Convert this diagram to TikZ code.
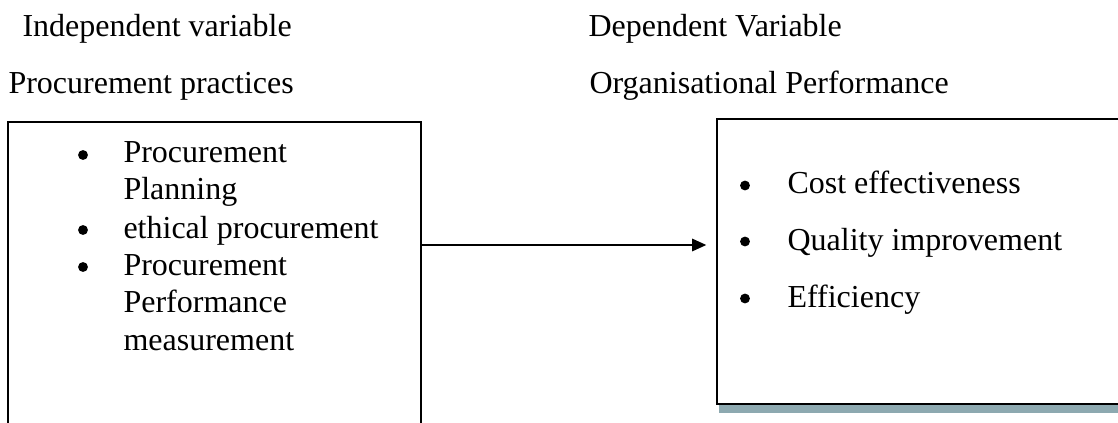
\documentclass[tikz,border=0pt]{standalone}
\usepackage{fontspec}
\setmainfont{Liberation Serif}
\usepackage{xcolor}
\usetikzlibrary{arrows.meta, positioning, calc, shadows}
\definecolor{ShadowSlate}{HTML}{8DA9B0}
\newcommand{\bodyfont}{\fontsize{12}{14}\selectfont}

\begin{document}
\begin{tikzpicture}[x=0.375pt, y=-0.375pt,
    heading/.style={anchor=base west, inner sep=0pt, font=\bodyfont},
    dot/.style={circle, fill=black, inner sep=0pt, minimum size=3.7pt},
    entry/.style={anchor=base west, inner sep=0pt, align=left, font=\bodyfont}]
    \useasboundingbox (0,0) rectangle (1118,423);
    \clip (0,0) rectangle (1118,423);

    % Headings
    \node[heading] (indep) at (22,37) {Independent variable};
    \node[heading] (practices) at (8,94) {Procurement practices};
    \node[heading] (dep) at (588,37) {Dependent Variable};
    \node[heading] (perf) at (589,94) {Organisational Performance};

    % Boxes
    \node[draw, line width=0.6pt, outer sep=0pt, anchor=north west,
          minimum width=154.875pt, minimum height=120pt] (practicebox) at (8,122) {};
    \node[draw, line width=1.1pt, outer sep=0pt, anchor=north west, fill=white,
          minimum width=154.875pt, minimum height=106.875pt,
          drop shadow={shadow xshift=0.8pt, shadow yshift=-3.2pt,
                       fill=ShadowSlate, opacity=1}] (perfbox) at (717,119) {};

    % Left items (base = last line)
    \node[dot] (b1) at (83,155) {};
    \node[entry] (i1) at (123,200) {Procurement\\Planning};
    \node[dot] (b2) at (83,230) {};
    \node[entry] (i2) at (123,238) {ethical procurement};
    \node[dot] (b3) at (83,267) {};
    \node[entry] (i3) at (123,350) {Procurement\\Performance\\measurement};

    % Right items
    \node[dot] (b4) at (745,185.5) {};
    \node[entry] (i4) at (787,194) {Cost effectiveness};
    \node[dot] (b5) at (745,241.5) {};
    \node[entry] (i5) at (787,250) {Quality improvement};
    \node[dot] (b6) at (745,298.5) {};
    \node[entry] (i6) at (787,307) {Efficiency};

    % Arrow
    \coordinate (level) at (0,245);
    \draw[-{Triangle[length=5.3pt, width=4.6pt]}, line width=0.75pt, shorten >=4pt]
        (practicebox.east |- level) -- (perfbox.west |- level);
\end{tikzpicture}
\end{document}
